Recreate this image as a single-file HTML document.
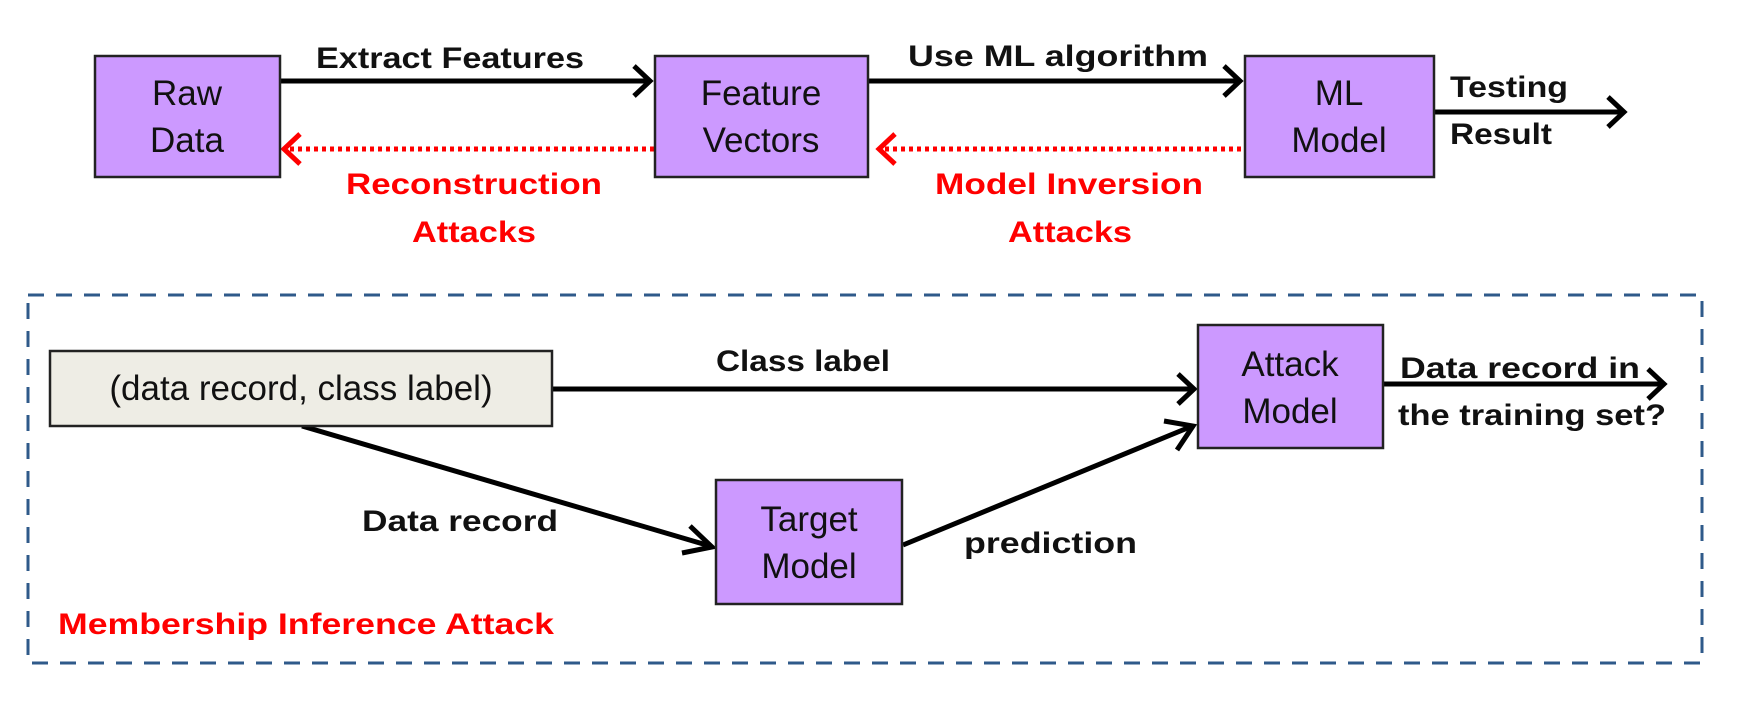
<!DOCTYPE html>
<html><head><meta charset="utf-8"><style>html,body{margin:0;padding:0;background:#fff}svg{display:block}</style></head>
<body>
<svg width="1748" height="702" viewBox="0 0 1748 702" xmlns="http://www.w3.org/2000/svg" font-family="Liberation Sans, sans-serif">
<rect width="1748" height="702" fill="#fff"/>
<g stroke="#000" stroke-width="5" fill="none" stroke-linecap="butt">
<line x1="280" y1="81" x2="648" y2="81"/><path d="M634 66 L650 81 L634 96"/>
<line x1="868" y1="81" x2="1238" y2="81"/><path d="M1224 66 L1240 81 L1224 96"/>
<line x1="1434" y1="112" x2="1622" y2="112"/><path d="M1608 97 L1624 112 L1608 127"/>
<line x1="552" y1="389" x2="1192" y2="389"/><path d="M1178 374 L1194 389 L1178 404"/>
<line x1="1383" y1="384" x2="1662" y2="384"/><path d="M1648 369 L1664 384 L1648 399"/>
<line x1="302" y1="426" x2="710" y2="546"/><path d="M690 526 L712 547 L682 553"/>
<line x1="903" y1="545" x2="1190" y2="427"/><path d="M1164 421 L1193 426 L1177 450"/>
</g>
<g stroke="#f00" stroke-width="5" fill="none">
<line x1="290" y1="149" x2="655" y2="149" stroke-dasharray="4 4"/><path d="M300 134 L284 149 L300 164"/>
<line x1="885" y1="149" x2="1245" y2="149" stroke-dasharray="4 4"/><path d="M895 134 L879 149 L895 164"/>
</g>
<rect x="28" y="295" width="1674" height="368" fill="none" stroke="#2f5a8a" stroke-width="3" stroke-dasharray="16 12"/>
<g fill="#cc99ff" stroke="#222" stroke-width="2.5">
<rect x="95" y="56" width="185" height="121"/>
<rect x="655" y="56" width="213" height="121"/>
<rect x="1245" y="56" width="189" height="121"/>
<rect x="1198" y="325" width="185" height="123"/>
<rect x="716" y="480" width="186" height="124"/>
</g>
<rect x="50" y="351" width="502" height="75" fill="#eeede5" stroke="#222" stroke-width="2.5"/>
<g font-size="35" fill="#111" text-anchor="middle">
<text x="187" y="105">Raw</text><text x="187" y="152">Data</text>
<text x="761" y="105">Feature</text><text x="761" y="152">Vectors</text>
<text x="1339" y="105">ML</text><text x="1339" y="152">Model</text>
<text x="1290" y="376">Attack</text><text x="1290" y="423">Model</text>
<text x="809" y="531">Target</text><text x="809" y="578">Model</text>
<text x="301" y="400">(data record, class label)</text>
</g>
<g font-size="30" font-weight="bold" fill="#111">
<text x="316" y="68" textLength="268" lengthAdjust="spacingAndGlyphs">Extract Features</text>
<text x="908" y="66" textLength="300" lengthAdjust="spacingAndGlyphs">Use ML algorithm</text>
<text x="1450" y="97" textLength="118" lengthAdjust="spacingAndGlyphs">Testing</text>
<text x="1450" y="144" textLength="102" lengthAdjust="spacingAndGlyphs">Result</text>
<text x="716" y="371" textLength="174" lengthAdjust="spacingAndGlyphs">Class label</text>
<text x="1400" y="378" textLength="240" lengthAdjust="spacingAndGlyphs">Data record in</text>
<text x="1398" y="425" textLength="268" lengthAdjust="spacingAndGlyphs">the training set?</text>
<text x="362" y="531" textLength="196" lengthAdjust="spacingAndGlyphs">Data record</text>
<text x="964" y="553" textLength="173" lengthAdjust="spacingAndGlyphs">prediction</text>
</g>
<g font-size="30" font-weight="bold" fill="#f00">
<text x="346" y="194" textLength="256" lengthAdjust="spacingAndGlyphs">Reconstruction</text>
<text x="412" y="242" textLength="124" lengthAdjust="spacingAndGlyphs">Attacks</text>
<text x="935" y="194" textLength="268" lengthAdjust="spacingAndGlyphs">Model Inversion</text>
<text x="1008" y="242" textLength="124" lengthAdjust="spacingAndGlyphs">Attacks</text>
<text x="58" y="634" textLength="496" lengthAdjust="spacingAndGlyphs">Membership Inference Attack</text>
</g>
</svg>
</body></html>
